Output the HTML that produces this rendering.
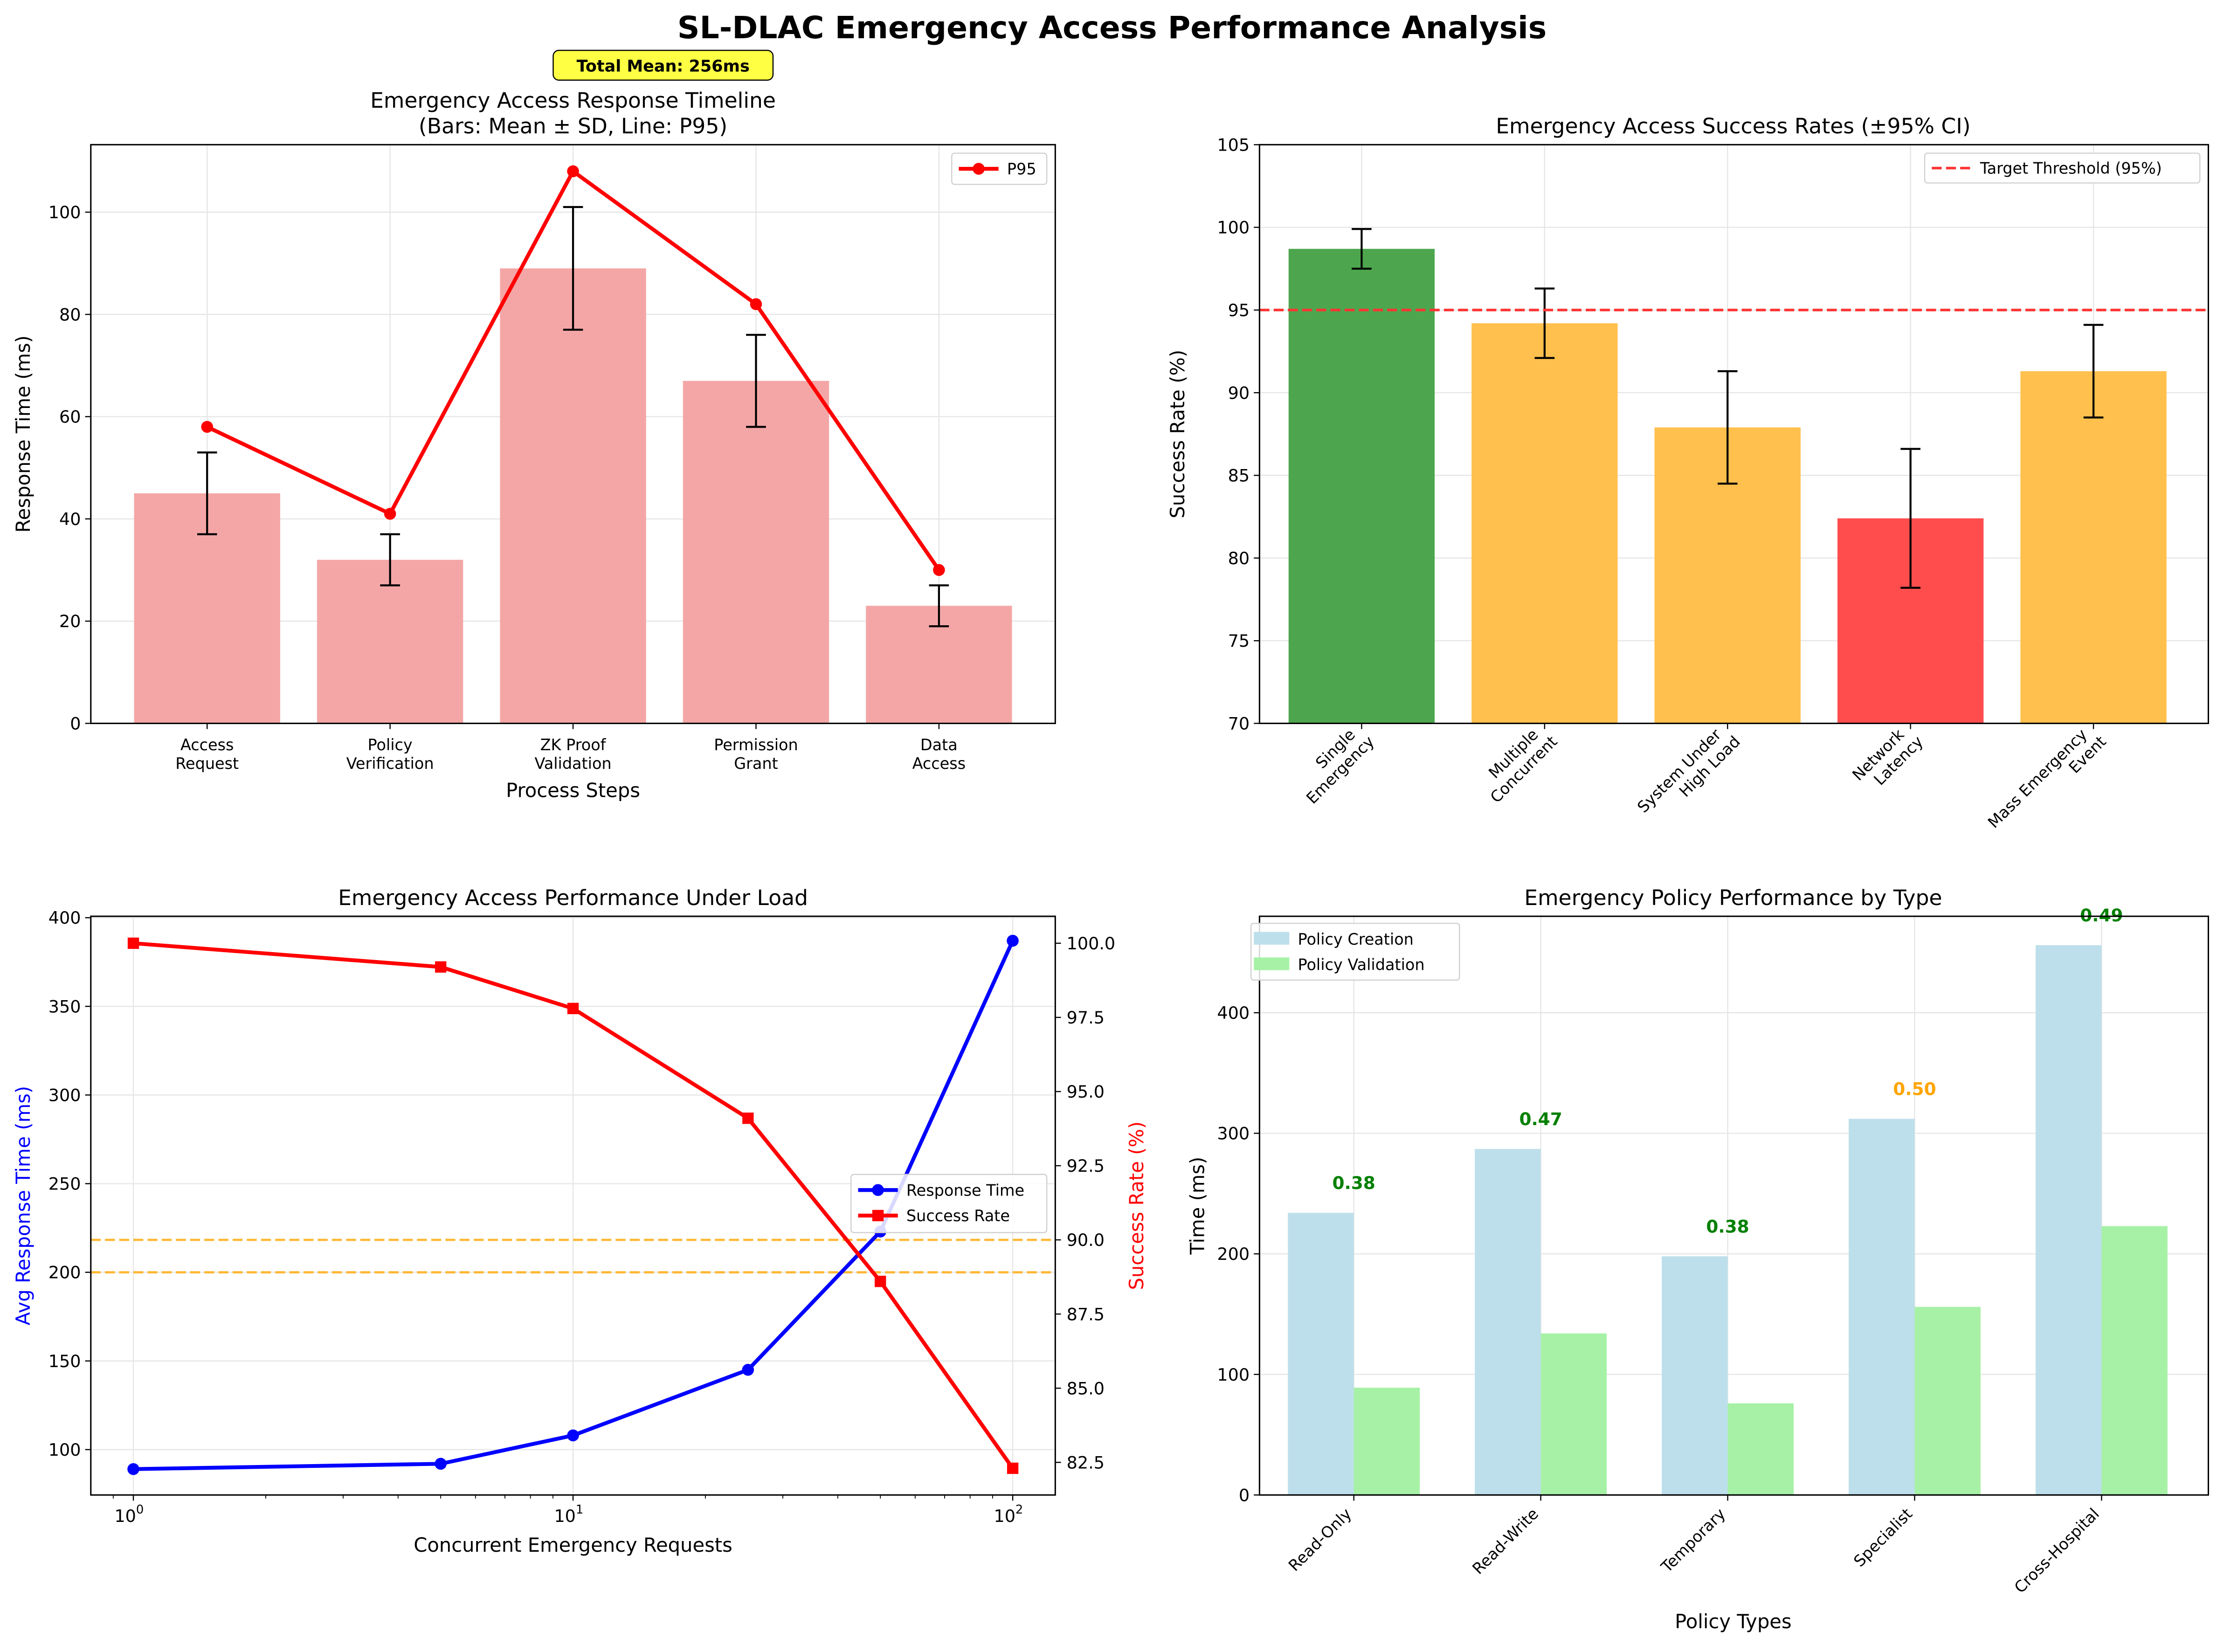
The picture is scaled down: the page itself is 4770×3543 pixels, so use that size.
<!DOCTYPE html>
<html><head><meta charset="utf-8"><style>
html,body{margin:0;padding:0;background:#fff;}
svg{display:block;font-family:"DejaVu Sans","Liberation Sans",sans-serif;}
</style></head><body>
<svg id="chart" xmlns="http://www.w3.org/2000/svg" width="4770" height="3543" viewBox="0 0 1568 1164.7">
<rect x="0" y="0" width="1568" height="1164.7" fill="#fff"/>
<text x="784" y="27" text-anchor="middle" font-size="21.8" font-weight="bold">SL-DLAC Emergency Access Performance Analysis</text>
<g id="root"></g>
</svg>
<script>
// Panel 1 data
const steps = [["Access","Request"],["Policy","Verification"],["ZK Proof","Validation"],["Permission","Grant"],["Data","Access"]];
const stepMeans = [45, 32, 89, 67, 23];
const stepSD = [8, 5, 12, 9, 4];
const stepP95 = [58, 41, 108, 82, 30];
const p1YTicks = [0, 20, 40, 60, 80, 100];
// Panel 2 data
const scenarios = [["Single","Emergency"],["Multiple","Concurrent"],["System Under","High Load"],["Network","Latency"],["Mass Emergency","Event"]];
const successRates = [98.7, 94.2, 87.9, 82.4, 91.3];
const successCI = [1.2, 2.1, 3.4, 4.2, 2.8];
const targetThreshold = [95];
const p2YTicks = [70, 75, 80, 85, 90, 95, 100, 105];
// Panel 3 data
const loadLevels = [1, 5, 10, 25, 50, 100];
const loadResponse = [89, 92, 108, 145, 223, 387];
const loadSuccess = [100, 99.2, 97.8, 94.1, 88.6, 82.3];
const responseLimit = [200];
const successLimit = [90];
const p3LeftTicks = [100, 150, 200, 250, 300, 350, 400];
const p3RightTicks = [82.5, 85.0, 87.5, 90.0, 92.5, 95.0, 97.5, 100.0];
// Panel 4 data
const policyTypes = ["Read-Only","Read-Write","Temporary","Specialist","Cross-Hospital"];
const policyCreation = [234, 287, 198, 312, 456];
const policyValidation = [89, 134, 76, 156, 223];
const p4YTicks = [0, 100, 200, 300, 400];

const NS = "http://www.w3.org/2000/svg";
const root = document.getElementById('root');
function mk(tag, attrs, parent, txt) {
  const e = document.createElementNS(NS, tag);
  for (const k in attrs) e.setAttribute(k, attrs[k]);
  if (txt !== undefined) e.textContent = txt;
  (parent || root).appendChild(e);
  return e;
}
const GRID = "#e6e6e6";

// ---------- Panel 1 ----------
const p1 = {l:64, r:744, t:102, b:510};
const x1 = i => 146 + i * 129;
const y1 = v => 510 - v * (408 / 113.2);
p1YTicks.forEach(v => {
  const g = mk('line', {x1:p1.l, x2:p1.r, y1:y1(v), y2:y1(v), stroke:GRID, 'stroke-width':0.8});
  
  
  const tk = mk('line', {x1:p1.l-4, x2:p1.l, y1:y1(v), y2:y1(v), stroke:'#000', 'stroke-width':0.8});
  
  
  const t = mk('text', {x:p1.l-7, y:y1(v)+4.3, 'text-anchor':'end', 'font-size':12}, null, String(v));
  
  
});
steps.forEach((s, i) => {
  const g = mk('line', {x1:x1(i), x2:x1(i), y1:p1.t, y2:p1.b, stroke:GRID, 'stroke-width':0.8});
  
  
});
stepMeans.forEach((v, i) => {
  const w = 103;
  const b = mk('rect', {x:x1(i)-w/2, y:y1(v), width:w, height:y1(0)-y1(v), fill:'#f4a6a6'});
  
  
  const top = y1(v + stepSD[i]), bot = y1(v - stepSD[i]);
  const e = mk('path', {d:`M${x1(i)},${top}V${bot}M${x1(i)-7},${top}H${x1(i)+7}M${x1(i)-7},${bot}H${x1(i)+7}`, stroke:'#000', 'stroke-width':1.4, fill:'none'});
  
  
});
{
  const d = stepP95.map((v, i) => (i ? 'L' : 'M') + x1(i) + ',' + y1(v)).join('');
  const l = mk('path', {d:d, stroke:'#ff0000', 'stroke-width':2.7, fill:'none'});
  
  
  stepP95.forEach((v, i) => {
    const c = mk('circle', {cx:x1(i), cy:y1(v), r:4.2, fill:'#ff0000'});
    
    
  });
}
steps.forEach((s, i) => {
  const tk = mk('line', {x1:x1(i), x2:x1(i), y1:p1.b, y2:p1.b+4, stroke:'#000', 'stroke-width':0.8});
  
  
  const t = mk('text', {x:x1(i), y:p1.b+19, 'text-anchor':'middle', 'font-size':11});
  
  
  s.forEach((ln, k) => mk('tspan', {x:x1(i), dy:k ? 13 : 0}, t, ln));
});
{
  const f = mk('rect', {x:p1.l, y:p1.t, width:p1.r-p1.l, height:p1.b-p1.t, fill:'none', stroke:'#000', 'stroke-width':1});
  
  
  const t1 = mk('text', {x:404, y:76, 'text-anchor':'middle', 'font-size':15}, null, 'Emergency Access Response Timeline');
  
  
  const t2 = mk('text', {x:404, y:94, 'text-anchor':'middle', 'font-size':15}, null, '(Bars: Mean ± SD, Line: P95)');
  
  
  const xl = mk('text', {x:404, y:562, 'text-anchor':'middle', 'font-size':13.7}, null, 'Process Steps');
  
  
  const yl = mk('text', {x:0, y:0, 'text-anchor':'middle', 'font-size':13.7, transform:'translate(21,306) rotate(-90)'}, null, 'Response Time (ms)');
  
  
  const bx = mk('rect', {x:390, y:35.5, width:155, height:21, rx:4, fill:'#ffff44', stroke:'#000', 'stroke-width':0.8});
  
  
  const tm = mk('text', {x:467.5, y:50.5, 'text-anchor':'middle', 'font-size':11.5, 'font-weight':'bold'}, null, 'Total Mean: ' + stepMeans.reduce((a, b) => a + b, 0) + 'ms');
  
  
  const lg = mk('rect', {x:671, y:108, width:67, height:22, rx:2, fill:'#fff', stroke:'#d0d0d0', 'stroke-width':0.8});
  
  
  const ll = mk('line', {x1:676, x2:704, y1:119, y2:119, stroke:'#ff0000', 'stroke-width':2.7});
  
  
  const lc = mk('circle', {cx:690, cy:119, r:4.2, fill:'#ff0000'});
  
  
  const lt = mk('text', {x:710, y:123, 'font-size':11}, null, 'P95');
  
  
}

// ---------- Panel 2 ----------
const p2 = {l:888, r:1557, t:102, b:510};
const x2 = i => 960 + i * 129;
const y2 = v => 510 - (v - 70) * (408 / 35);
const p2Colors = successRates.map(v => v >= 95 ? '#4da64d' : (v >= 85 ? '#ffc04d' : '#ff4d4d'));
p2YTicks.forEach(v => {
  const g = mk('line', {x1:p2.l, x2:p2.r, y1:y2(v), y2:y2(v), stroke:GRID, 'stroke-width':0.8});
  
  
  const tk = mk('line', {x1:p2.l-4, x2:p2.l, y1:y2(v), y2:y2(v), stroke:'#000', 'stroke-width':0.8});
  
  
  const t = mk('text', {x:p2.l-7, y:y2(v)+4.3, 'text-anchor':'end', 'font-size':12}, null, String(v));
  
  
});
scenarios.forEach((s, i) => {
  const g = mk('line', {x1:x2(i), x2:x2(i), y1:p2.t, y2:p2.b, stroke:GRID, 'stroke-width':0.8});
  
  
});
successRates.forEach((v, i) => {
  const w = 103;
  const b = mk('rect', {x:x2(i)-w/2, y:y2(v), width:w, height:y2(70)-y2(v), fill:p2Colors[i]});
  
  
  const top = y2(v + successCI[i]), bot = y2(v - successCI[i]);
  const e = mk('path', {d:`M${x2(i)},${top}V${bot}M${x2(i)-7},${top}H${x2(i)+7}M${x2(i)-7},${bot}H${x2(i)+7}`, stroke:'#000', 'stroke-width':1.4, fill:'none'});
  
  
});
{
  const th = mk('line', {x1:p2.l, x2:p2.r, y1:y2(targetThreshold[0]), y2:y2(targetThreshold[0]), stroke:'#ff3333', 'stroke-width':1.8, 'stroke-dasharray':'7,3'});
  
  
}
scenarios.forEach((s, i) => {
  const tk = mk('line', {x1:x2(i), x2:x2(i), y1:p2.b, y2:p2.b+4, stroke:'#000', 'stroke-width':0.8});
  
  
  const t = mk('text', {x:0, y:0, 'text-anchor':'end', 'font-size':11, transform:`translate(${x2(i)+6},${p2.b+10}) rotate(-45)`});
  
  
  s.forEach((ln, k) => mk('tspan', {x:k ? 0 : -6, y:k ? 5 : -8}, t, ln));
});
{
  const f = mk('rect', {x:p2.l, y:p2.t, width:p2.r-p2.l, height:p2.b-p2.t, fill:'none', stroke:'#000', 'stroke-width':1});
  
  
  const t1 = mk('text', {x:1222, y:94, 'text-anchor':'middle', 'font-size':15}, null, 'Emergency Access Success Rates (±95% CI)');
  
  
  const yl = mk('text', {x:0, y:0, 'text-anchor':'middle', 'font-size':13.7, transform:'translate(835,306) rotate(-90)'}, null, 'Success Rate (%)');
  
  
  const lg = mk('rect', {x:1357, y:108, width:194, height:21, rx:2, fill:'#fff', stroke:'#d0d0d0', 'stroke-width':0.8});
  
  
  const ll = mk('line', {x1:1362, x2:1390, y1:118.5, y2:118.5, stroke:'#ff3333', 'stroke-width':1.8, 'stroke-dasharray':'7,3'});
  
  
  const lt = mk('text', {x:1396, y:122.5, 'font-size':11}, null, 'Target Threshold (95%)');
  
  
}

// ---------- Panel 3 ----------
const p3 = {l:64, r:744, t:646, b:1054};
const x3 = v => 94 + Math.log10(v) * 310;
const y3 = v => 1022 - (v - 100) * 1.25;
const y3r = v => 665 + (100 - v) * 20.914;
p3LeftTicks.forEach(v => {
  const g = mk('line', {x1:p3.l, x2:p3.r, y1:y3(v), y2:y3(v), stroke:GRID, 'stroke-width':0.8});
  
  
  const tk = mk('line', {x1:p3.l-4, x2:p3.l, y1:y3(v), y2:y3(v), stroke:'#000', 'stroke-width':0.8});
  
  
  const t = mk('text', {x:p3.l-7, y:y3(v)+4.3, 'text-anchor':'end', 'font-size':12}, null, String(v));
  
  
});
[1, 10, 100].forEach((v, k) => {
  const g = mk('line', {x1:x3(v), x2:x3(v), y1:p3.t, y2:p3.b, stroke:GRID, 'stroke-width':0.8});
  
  
  const tk = mk('line', {x1:x3(v), x2:x3(v), y1:p3.b, y2:p3.b+4, stroke:'#000', 'stroke-width':0.8});
  
  
  const t = mk('text', {x:x3(v)-3, y:p3.b+19, 'text-anchor':'middle', 'font-size':12}, null, '10');
  
  
  mk('tspan', {dy:-6, 'font-size':8.5}, t, String(k));
});
for (let d = 0; d < 3; d++) for (let m = 2; m <= 9; m++) {
  const v = m * Math.pow(10, d - 1);
  if (x3(v) < p3.l || x3(v) > p3.r) continue;
  const tk = mk('line', {x1:x3(v), x2:x3(v), y1:p3.b, y2:p3.b+2.5, stroke:'#000', 'stroke-width':0.6});
  
  
}
p3RightTicks.forEach(v => {
  const tk = mk('line', {x1:p3.r, x2:p3.r+4, y1:y3r(v), y2:y3r(v), stroke:'#000', 'stroke-width':0.8});
  
  
  const t = mk('text', {x:p3.r+8, y:y3r(v)+4.3, 'font-size':12}, null, v.toFixed(1));
  
  
});
{
  const a = mk('line', {x1:p3.l, x2:p3.r, y1:y3(responseLimit[0]), y2:y3(responseLimit[0]), stroke:'#ffb733', 'stroke-width':1.6, 'stroke-dasharray':'7,3'});
  
  
  const b = mk('line', {x1:p3.l, x2:p3.r, y1:y3r(successLimit[0]), y2:y3r(successLimit[0]), stroke:'#ffb733', 'stroke-width':1.6, 'stroke-dasharray':'7,3'});
  
  
  const d1 = loadResponse.map((v, i) => (i ? 'L' : 'M') + x3(loadLevels[i]) + ',' + y3(v)).join('');
  const l1 = mk('path', {d:d1, stroke:'#0000ff', 'stroke-width':2.7, fill:'none'});
  
  
  loadResponse.forEach((v, i) => {
    const c = mk('circle', {cx:x3(loadLevels[i]), cy:y3(v), r:4.2, fill:'#0000ff'});
    
    
  });
  const d2 = loadSuccess.map((v, i) => (i ? 'L' : 'M') + x3(loadLevels[i]) + ',' + y3r(v)).join('');
  const l2 = mk('path', {d:d2, stroke:'#ff0000', 'stroke-width':2.7, fill:'none'});
  
  
  loadSuccess.forEach((v, i) => {
    const c = mk('rect', {x:x3(loadLevels[i])-4, y:y3r(v)-4, width:8, height:8, fill:'#ff0000'});
    
    
  });
  const f = mk('rect', {x:p3.l, y:p3.t, width:p3.r-p3.l, height:p3.b-p3.t, fill:'none', stroke:'#000', 'stroke-width':1});
  
  
  const t1 = mk('text', {x:404, y:638, 'text-anchor':'middle', 'font-size':15}, null, 'Emergency Access Performance Under Load');
  
  
  const xl = mk('text', {x:404, y:1094, 'text-anchor':'middle', 'font-size':13.7}, null, 'Concurrent Emergency Requests');
  
  
  const yl = mk('text', {x:0, y:0, 'text-anchor':'middle', 'font-size':13.7, fill:'#0000ff', transform:'translate(21,850) rotate(-90)'}, null, 'Avg Response Time (ms)');
  
  
  const yr = mk('text', {x:0, y:0, 'text-anchor':'middle', 'font-size':13.7, fill:'#ff0000', transform:'translate(806,850) rotate(-90)'}, null, 'Success Rate (%)');
  
  
  const lg = mk('rect', {x:600, y:828, width:138, height:41, rx:2, fill:'#fff', 'fill-opacity':0.85, stroke:'#d0d0d0', 'stroke-width':0.8});
  
  
  const la = mk('line', {x1:605, x2:633, y1:839, y2:839, stroke:'#0000ff', 'stroke-width':2.7});
  
  
  const lc = mk('circle', {cx:619, cy:839, r:4.2, fill:'#0000ff'});
  
  
  const lt = mk('text', {x:639, y:843, 'font-size':11}, null, 'Response Time');
  
  
  const lb = mk('line', {x1:605, x2:633, y1:857, y2:857, stroke:'#ff0000', 'stroke-width':2.7});
  
  
  const ls = mk('rect', {x:615, y:853, width:8, height:8, fill:'#ff0000'});
  
  
  const lt2 = mk('text', {x:639, y:861, 'font-size':11}, null, 'Success Rate');
  
  
}

// ---------- Panel 4 ----------
const p4 = {l:888, r:1557, t:646, b:1054};
const x4 = i => 954.5 + i * 131.8;
const y4 = v => 1054 - v * 0.85;
const bw4 = 46.5;
p4YTicks.forEach(v => {
  const g = mk('line', {x1:p4.l, x2:p4.r, y1:y4(v), y2:y4(v), stroke:GRID, 'stroke-width':0.8});
  
  
  const tk = mk('line', {x1:p4.l-4, x2:p4.l, y1:y4(v), y2:y4(v), stroke:'#000', 'stroke-width':0.8});
  
  
  const t = mk('text', {x:p4.l-7, y:y4(v)+4.3, 'text-anchor':'end', 'font-size':12}, null, String(v));
  
  
});
policyTypes.forEach((s, i) => {
  const g = mk('line', {x1:x4(i), x2:x4(i), y1:p4.t, y2:p4.b, stroke:GRID, 'stroke-width':0.8});
  
  
});
policyTypes.forEach((s, i) => {
  const c = policyCreation[i], v = policyValidation[i];
  const b1 = mk('rect', {x:x4(i)-bw4, y:y4(c), width:bw4, height:y4(0)-y4(c), fill:'#bddfeb'});
  
  
  const b2 = mk('rect', {x:x4(i), y:y4(v), width:bw4, height:y4(0)-y4(v), fill:'#a6f1a6'});
  
  
  const r = v / c;
  const t = mk('text', {x:x4(i), y:y4(c + 25)+4.5, 'text-anchor':'middle', 'font-size':12.3, 'font-weight':'bold', fill: r >= 0.495 ? '#ffa500' : '#008000'}, null, r.toFixed(2));
  
  
  const tk = mk('line', {x1:x4(i), x2:x4(i), y1:p4.b, y2:p4.b+4, stroke:'#000', 'stroke-width':0.8});
  
  
  const tl = mk('text', {x:0, y:0, 'text-anchor':'end', 'font-size':11, transform:`translate(${x4(i)-1},${p4.b+14}) rotate(-45)`}, null, s);
  
  
});
{
  const f = mk('rect', {x:p4.l, y:p4.t, width:p4.r-p4.l, height:p4.b-p4.t, fill:'none', stroke:'#000', 'stroke-width':1});
  
  
  const t1 = mk('text', {x:1222, y:638, 'text-anchor':'middle', 'font-size':15}, null, 'Emergency Policy Performance by Type');
  
  
  const xl = mk('text', {x:1222, y:1148, 'text-anchor':'middle', 'font-size':13.7}, null, 'Policy Types');
  
  
  const yl = mk('text', {x:0, y:0, 'text-anchor':'middle', 'font-size':13.7, transform:'translate(849,850) rotate(-90)'}, null, 'Time (ms)');
  
  
  const lg = mk('rect', {x:882, y:651, width:147, height:40, rx:2, fill:'#fff', 'fill-opacity':0.85, stroke:'#d0d0d0', 'stroke-width':0.8});
  
  
  const s1 = mk('rect', {x:884, y:657, width:25, height:9, fill:'#bddfeb'});
  
  
  const l1 = mk('text', {x:915, y:666, 'font-size':11}, null, 'Policy Creation');
  
  
  const s2 = mk('rect', {x:884, y:675, width:25, height:9, fill:'#a6f1a6'});
  
  
  const l2 = mk('text', {x:915, y:684, 'font-size':11}, null, 'Policy Validation');
  
  
}
</script>
</body></html>
